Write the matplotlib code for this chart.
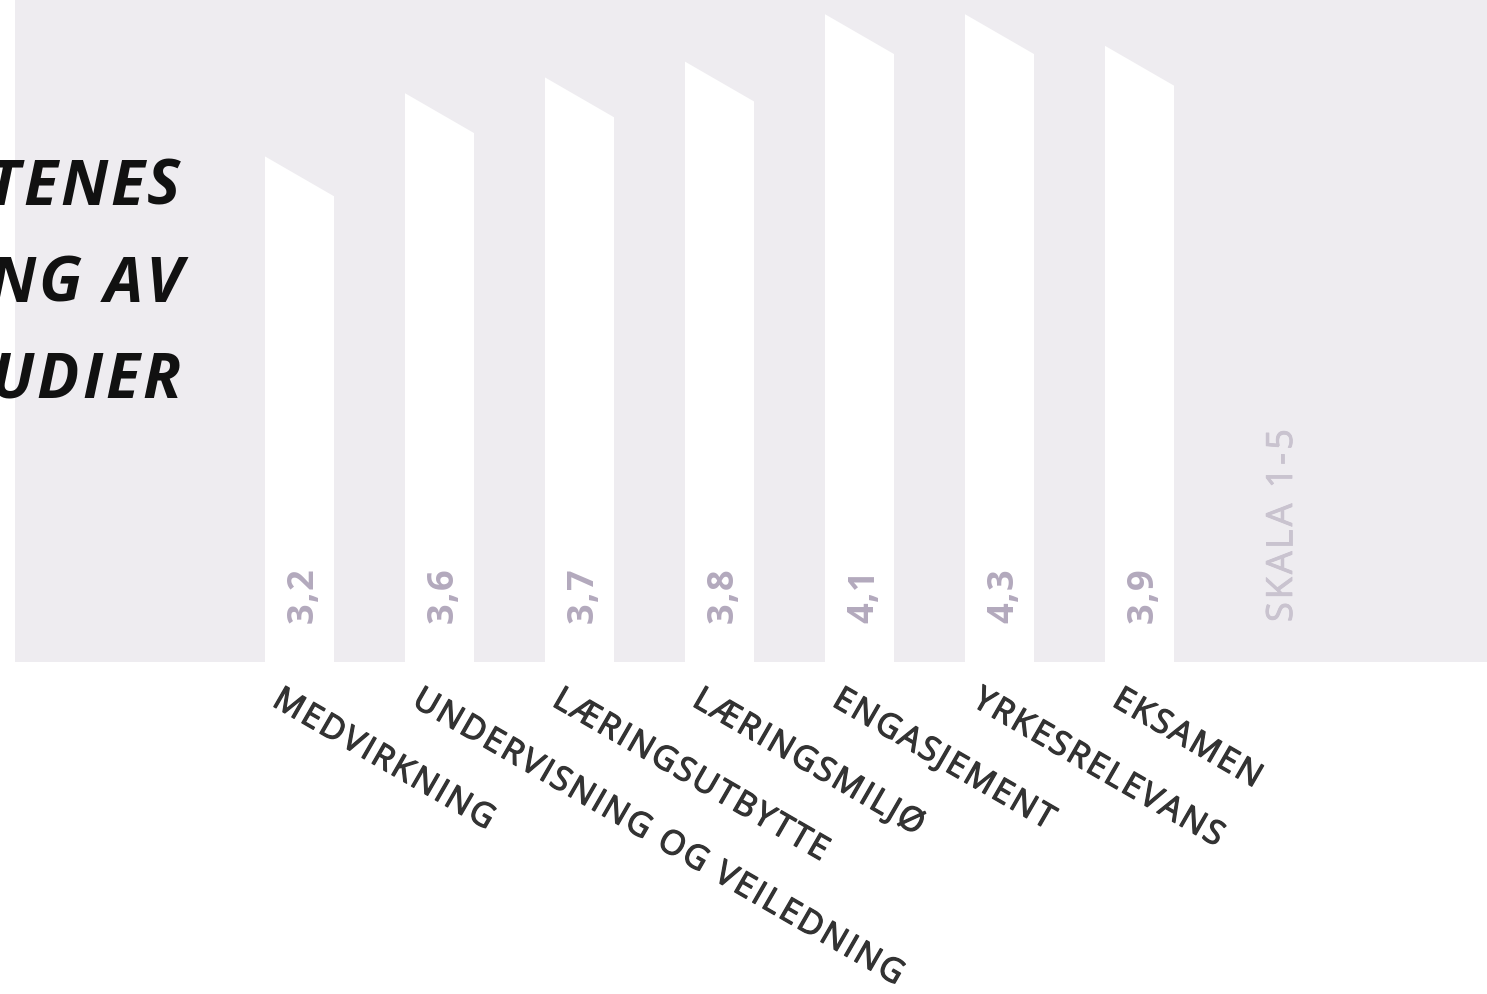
import math
import matplotlib
matplotlib.use("Agg")
import matplotlib.pyplot as plt
import matplotlib.patheffects as pe
from matplotlib.patches import Polygon
from matplotlib.font_manager import FontProperties
from matplotlib.transforms import IdentityTransform

# data
categories = ["MEDVIRKNING", "UNDERVISNING OG VEILEDNING", "LÆRINGSUTBYTTE",
              "LÆRINGSMILJØ", "ENGASJEMENT", "YRKESRELEVANS", "EKSAMEN"]
bar_heights = [3.2, 3.6, 3.7, 3.8, 4.1, 4.1, 3.9]
value_labels = ["3,2", "3,6", "3,7", "3,8", "4,1", "4,3", "3,9"]
title_lines = ["STUDENTENES", "VURDERING AV", "STUDIER"]
scale_note = "SKALA 1-5"

W, H = 1487, 995
PANEL = "#eeecf0"
VALUE_COLOR = "#b3a9bd"
NOTE_COLOR = "#c9c3cf"
LABEL_COLOR = "#333333"
FONT = "Open Sans"

fig = plt.figure(figsize=(W / 100, H / 100), dpi=100)
ax = fig.add_axes([15 / W, (H - 663) / H, 1472 / W, 663 / H])
ax.set_facecolor(PANEL)
for sp in ax.spines.values():
  sp.set_visible(False)
ax.set_xticks([])
ax.set_yticks([])

slot_px = 140.0
x_left = -(299.5 - 15) / slot_px
ax.set_xlim(x_left, x_left + 1472 / slot_px)
ax.set_ylim(0, 663 / 158.0)
bar_w = 69 / slot_px

# slanted top: 30 degrees across the bar width
px_per_unit = 158.0
slant = (69 * math.tan(math.radians(30))) / px_per_unit

for i, h in enumerate(bar_heights):
  x0, x1 = i - bar_w / 2, i + bar_w / 2
  ax.add_patch(Polygon([(x0, 0), (x0, h), (x1, h - slant), (x1, 0)],
                       closed=True, facecolor="white", edgecolor="none"))

renderer = fig.canvas.get_renderer()


def text_width(s, prop):
  return renderer.get_text_width_height_descent(s, prop, ismath=False)[0]


def spaced_text(x, y, s, prop, angle=0, spacing=0, color="black", align="left", bold_px=0):
  """Draw s char by char (display pixels) with extra letter spacing."""
  ref = text_width("I", prop)
  offsets = [text_width(s[:i] + "I", prop) - ref + i * spacing for i in range(len(s))]
  if align == "right":
    total = text_width(s, prop) + (len(s) - 1) * spacing
    x = x - total
  effects = [pe.withStroke(linewidth=bold_px, foreground=color)] if bold_px else None
  c, sn = math.cos(math.radians(angle)), math.sin(math.radians(angle))
  for ch, d in zip(s, offsets):
    if ch == " ":
      continue
    fig.text(x + d * c, y + d * sn, ch, rotation=angle, rotation_mode="anchor",
             ha="left", va="baseline", transform=IdentityTransform(),
             fontproperties=prop, color=color, path_effects=effects)


def to_px(x, y):
  return ax.transData.transform((x, y))


value_prop = FontProperties(family=FONT, size=26, weight="bold")
note_prop = FontProperties(family=FONT, size=26, weight="normal")
label_prop = FontProperties(family=FONT, size=24, weight="normal")
title_prop = FontProperties(family=FONT, size=45, weight="bold", style="italic")

base_y = H - 623
for i, lab in enumerate(value_labels):
  px, _ = to_px(i, 0)
  spaced_text(px + 13.5, base_y, lab, value_prop, angle=90, spacing=1.5, color=VALUE_COLOR)

px, _ = to_px(len(value_labels), 0)
spaced_text(px + 12.5, base_y, scale_note, note_prop, angle=90, spacing=3,
            color=NOTE_COLOR, bold_px=0.6)

for i, cat in enumerate(categories):
  px, _ = to_px(i - bar_w / 2, 0)
  spaced_text(px + 6, H - 706, cat, label_prop, angle=-30, spacing=2.3,
              color=LABEL_COLOR, bold_px=0.9)

for line, base in zip(title_lines, [205, 302, 398]):
  spaced_text(180, H - base, line, title_prop, spacing=3, color="#111111", align="right")

fig.savefig("out.png", dpi=100)
